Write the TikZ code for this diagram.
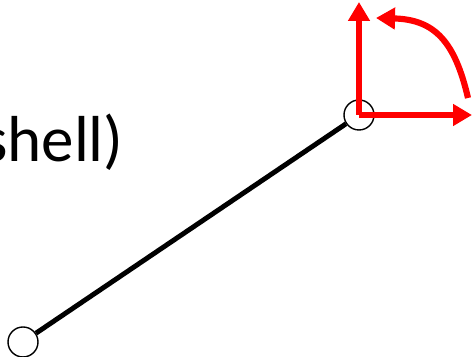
\documentclass[tikz,border=0pt]{standalone}
\usepackage{fontspec}
\setmainfont{Carlito}
\usetikzlibrary{arrows.meta, positioning}
\definecolor{axisred}{HTML}{FF0000}

\begin{document}
\begin{tikzpicture}[
    joint/.style={draw, circle, fill=white, line width=0.8pt, minimum size=0.6cm, inner sep=0pt},
    link/.style={line width=2.8pt, black},
    axis/.style={-{Triangle[length=0.38cm, width=0.42cm]}, line width=3.5pt, color=axisred}
]
\useasboundingbox (0,0) rectangle (9.46,7.14);
\node[font=\fontsize{37}{44}\selectfont, anchor=base east, inner sep=0pt] (label) at (2.48, 3.9) {shell)};
\node[joint] (base) at (0.46, 0.30) {};
\node[joint] (tip) at (7.18, 4.84) {};
\coordinate (up) at (7.18, 7.10);
\coordinate (right) at (9.44, 4.84);
\coordinate (turn start) at (9.36, 5.18);
\coordinate (turn end) at (7.52, 6.78);
\draw[link] (base) -- (tip);
\draw[axis] (tip.center) -- (up);
\draw[axis] (tip.center) -- (right);
\draw[axis] (turn start) .. controls (9.1, 6.3) and (8.7, 6.75) .. (turn end);
\end{tikzpicture}
\end{document}
